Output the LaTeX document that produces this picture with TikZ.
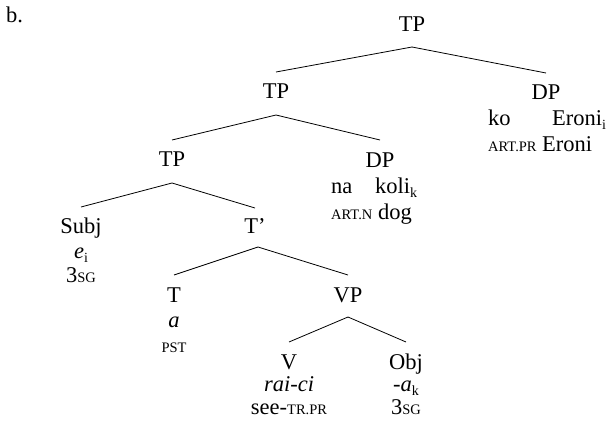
\documentclass[tikz,border=0pt]{standalone}
\usepackage{fontspec}
\setmainfont{Liberation Serif}
\newcommand{\subsc}[1]{\raisebox{-0.4ex}{\fontsize{14}{14}\selectfont #1}}
\newcommand{\glsc}[1]{{\fontsize{14.5}{14.5}\selectfont #1}}
\begin{document}
\begin{tikzpicture}[x=1pt,y=-1pt,
  lab/.style={inner sep=0pt, anchor=base, font=\fontsize{22.5}{22.5}\selectfont},
  labw/.style={inner sep=0pt, anchor=base west, font=\fontsize{22.5}{22.5}\selectfont},
  branch/.style={line width=0.8pt, black}]
\useasboundingbox (0,0) rectangle (607,425);
\node[labw] (b) at (6,23) {b.};
% category nodes
\node[lab] (tp0) at (412,32) {TP};
\node[lab] (tp1) at (276,99) {TP};
\node[lab] (dpr) at (546,100) {DP};
\node[lab] (tp2) at (172,166) {TP};
\node[lab] (dpm) at (380,167) {DP};
\node[lab] (subj) at (81,233) {Subj};
\node[lab] (tbar) at (255,233) {T’};
\node[lab] (t) at (174,302) {T};
\node[lab] (vp) at (348,302) {VP};
\node[lab] (v) at (289,369) {V};
\node[lab] (obj) at (406,369) {Obj};
% lexical material
\node[labw] (ko) at (488,125) {ko};
\node[labw] (eroni) at (552,125) {Eroni\subsc{i}};
\node[labw] (artpr) at (488,151) {\glsc{ART.PR}};
\node[labw] (eronig) at (542,151) {Eroni};
\node[labw] (na) at (331,193) {na};
\node[labw] (koli) at (375,193) {koli\subsc{k}};
\node[labw] (artn) at (331,219) {\glsc{ART.N}};
\node[labw] (dog) at (378,219) {dog};
\node[lab] (ei) at (81,258) {\textit{e}\subsc{i}};
\node[lab] (sg1) at (81,282) {3\glsc{SG}};
\node[lab] (ta) at (174,327) {\textit{a}};
\node[lab] (pst) at (174,352) {\glsc{PST}};
\node[lab] (raici) at (289,391) {\textit{rai-ci}};
\node[lab] (seetr) at (289,414) {see-\glsc{TR.PR}};
\node[lab] (ak) at (406,391) {\textit{-a}\subsc{k}};
\node[lab] (sg2) at (406,414) {3\glsc{SG}};
% branches
\draw[branch] ([yshift=-15pt]tp0.base) -- ([yshift=27pt]tp1.base);
\draw[branch] ([yshift=-15pt]tp0.base) -- ([yshift=27pt]dpr.base);
\draw[branch] ([yshift=-16pt]tp1.base) -- ([yshift=26pt]tp2.base);
\draw[branch] ([yshift=-16pt]tp1.base) -- ([yshift=27pt]dpm.base);
\draw[branch] ([yshift=-17pt]tp2.base) -- ([yshift=26pt]subj.base);
\draw[branch] ([yshift=-17pt]tp2.base) -- ([yshift=25pt]tbar.base);
\draw[branch] ([xshift=3pt,yshift=-14pt]tbar.base) -- ([yshift=27pt]t.base);
\draw[branch] ([xshift=3pt,yshift=-14pt]tbar.base) -- ([yshift=27pt]vp.base);
\draw[branch] ([yshift=-15pt]vp.base) -- ([yshift=27pt]v.base);
\draw[branch] ([yshift=-15pt]vp.base) -- ([yshift=27pt]obj.base);
\end{tikzpicture}
\end{document}
